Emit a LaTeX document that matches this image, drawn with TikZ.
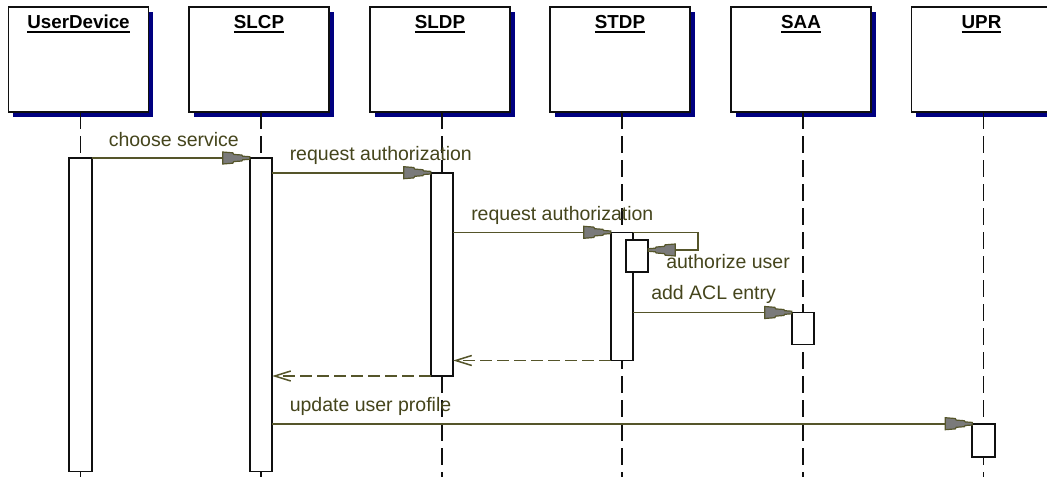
\documentclass[tikz,border=0pt]{standalone}
\usepackage{fontspec}
\setmainfont{Liberation Sans}
\usetikzlibrary{arrows.meta,shadows}

\definecolor{msgline}{HTML}{55552A}
\definecolor{msgtext}{HTML}{45451C}
\definecolor{headfill}{HTML}{7A7A7A}
\definecolor{boxshade}{HTML}{000080}
\definecolor{ink}{HTML}{101010}

% stepped, filled message head
\pgfdeclarearrow{
  name = MsgHead,
  parameters = {\the\pgflinewidth},
  setup code = {
    \pgfarrowssettipend{0pt}
    \pgfarrowssetlineend{-20pt}
    \pgfarrowssetbackend{-27pt}
    \pgfarrowshullpoint{0pt}{1.3pt}
    \pgfarrowshullpoint{0pt}{-1.3pt}
    \pgfarrowshullpoint{-27pt}{6pt}
    \pgfarrowshullpoint{-27pt}{-6pt}
  },
  drawing code = {
    \pgfsetdash{}{0pt}
    \pgfsetlinewidth{1.2pt}
    \pgfsetfillcolor{headfill}
    \pgfpathmoveto{\pgfqpoint{0pt}{1.3pt}}
    \pgfpathlineto{\pgfqpoint{-7pt}{1.8pt}}
    \pgfpathlineto{\pgfqpoint{-8pt}{3pt}}
    \pgfpathlineto{\pgfqpoint{-16pt}{3.6pt}}
    \pgfpathlineto{\pgfqpoint{-17pt}{5.2pt}}
    \pgfpathlineto{\pgfqpoint{-27pt}{6pt}}
    \pgfpathlineto{\pgfqpoint{-27pt}{-6pt}}
    \pgfpathlineto{\pgfqpoint{-17pt}{-5.2pt}}
    \pgfpathlineto{\pgfqpoint{-16pt}{-3.6pt}}
    \pgfpathlineto{\pgfqpoint{-8pt}{-3pt}}
    \pgfpathlineto{\pgfqpoint{-7pt}{-1.8pt}}
    \pgfpathlineto{\pgfqpoint{0pt}{-1.3pt}}
    \pgfpathclose
    \pgfusepathqfillstroke
  },
  defaults = {}
}

\tikzset{
  objbox/.style={draw=ink, line width=1.6pt, fill=white, anchor=north west,
    minimum width=140pt, minimum height=105pt, inner sep=0pt, outer sep=0pt,
    general shadow={fill=boxshade, shadow xshift=4.5pt, shadow yshift=-4.5pt}},
  objtitle/.style={anchor=base, inner sep=0pt, outer sep=0pt, text=black,
    font=\fontsize{18.8pt}{21pt}\selectfont\bfseries},
  titleline/.style={draw=black, line width=1.7pt},
  lifeline/.style={draw=ink, line width=1.7pt, dash pattern=on 17pt off 7pt},
  act/.style={draw=ink, line width=1.6pt, fill=white, anchor=north,
    minimum width=22.5pt, inner sep=0pt, outer sep=0pt},
  msg/.style={draw=msgline, line width=1.6pt, -{MsgHead}},
  ret/.style={draw=msgline, line width=1.6pt, dash pattern=on 12pt off 5pt,
    -{Straight Barb[length=16pt,width=10pt,line width=1.5pt]}},
  msglabel/.style={anchor=base west, inner sep=0pt, outer sep=0pt, text=msgtext,
    font=\fontsize{19.5pt}{22pt}\selectfont},
}

% object box with title and dashed lifeline
\newcommand{\umlobj}[3]{%
  \node[objbox] (#1) at (#2-72,7) {};
  \node[objtitle] (#1-t) at ([yshift=-21pt]#1.north) {#3};
  \draw[titleline] ([yshift=-4pt]#1-t.base west) -- ([yshift=-4pt]#1-t.base east);
  \coordinate (#1-end) at (#2,477);
  \draw[lifeline] (#1.south -| #1-end) -- (#1-end);
}

\begin{document}
\begin{tikzpicture}[x=1pt,y=-1pt]
  \useasboundingbox (0,0) rectangle (1047,477);
  \clip (0,0) rectangle (1047,477);
  \fill[white] (0,0) rectangle (1047,477);

  % objects
  \umlobj{ud}{80.5}{UserDevice}
  \umlobj{slcp}{261}{SLCP}
  \umlobj{sldp}{442}{SLDP}
  \umlobj{stdp}{622}{STDP}
  \umlobj{saa}{803}{SAA}
  \umlobj{upr}{983.5}{UPR}

  % activation bars
  \node[act, minimum height=313.5pt] (ud-a)   at (80.5,158)  {};
  \node[act, minimum height=313.5pt] (slcp-a) at (261,158)   {};
  \node[act, minimum height=203.3pt] (sldp-a) at (442,172.7) {};
  \node[act, minimum height=128.2pt] (stdp-a) at (622,232.3) {};
  \node[act, minimum height=32pt]    (stdp-b) at (637,240)   {};
  \node[act, minimum height=32pt]    (saa-a)  at (803,312.5) {};
  \node[act, minimum height=33pt]    (upr-a)  at (983.5,423.7) {};

  % messages
  \draw[msg] (ud-a.north east) -- (slcp-a.north west);
  \node[msglabel] (l1) at ([xshift=17pt,yshift=11.5pt]ud-a.north east) {choose service};

  \draw[msg] (slcp-a.east |- sldp-a.north) -- (sldp-a.north west);
  \node[msglabel] (l2) at ([xshift=17.5pt,yshift=12pt]slcp-a.east |- sldp-a.north) {request authorization};

  \draw[msg] (sldp-a.east |- stdp-a.north) -- (stdp-a.north west);
  \node[msglabel] (l3) at ([xshift=18pt,yshift=12pt]sldp-a.east |- stdp-a.north) {request authorization};

  \coordinate (stdp-loop) at (697.7,250);
  \draw[msg] (stdp-a.north east) -| (stdp-loop) -- (stdp-loop -| stdp-b.east);
  \node[msglabel] (l4) at ([xshift=18pt,yshift=-18pt]stdp-loop -| stdp-b.east) {authorize user};

  \draw[msg] (stdp-a.east |- saa-a.north) -- (saa-a.north west);
  \node[msglabel] (l5) at ([xshift=18pt,yshift=13pt]stdp-a.east |- saa-a.north) {add ACL entry};

  \draw[ret] (stdp-a.south west) -- (stdp-a.south west -| sldp-a.east);
  \draw[ret] (sldp-a.south west) -- (sldp-a.south west -| slcp-a.east);

  \draw[msg] (slcp-a.east |- upr-a.north) -- (upr-a.north west);
  \node[msglabel] (l6) at ([xshift=17.5pt,yshift=12.5pt]slcp-a.east |- upr-a.north) {update user profile};
\end{tikzpicture}
\end{document}
